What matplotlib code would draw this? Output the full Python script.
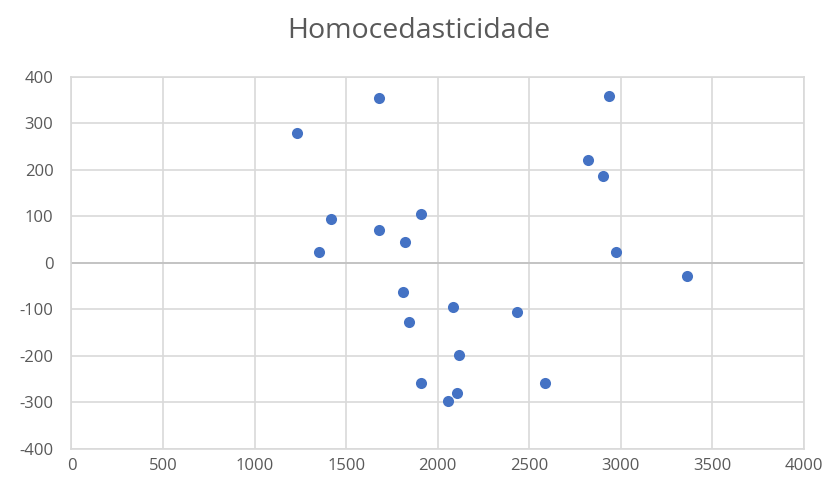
import matplotlib
matplotlib.use("Agg")
import matplotlib.pyplot as plt

# data
x_vals = [1230, 1678, 1415, 1351, 1678, 1906, 1820, 1809, 1844, 2082, 2115,
          1906, 2104, 2058, 2431, 2584, 2933, 2823, 2900, 2976, 3360]
y_vals = [279, 354, 95, 22, 70, 105, 44, -64, -128, -95, -198,
          -258, -280, -297, -107, -258, 359, 221, 186, 22, -29]
x_ticks = [0, 500, 1000, 1500, 2000, 2500, 3000, 3500, 4000]
y_ticks = [-400, -300, -200, -100, 0, 100, 200, 300, 400]

plt.rcParams['font.family'] = ['Open Sans', 'DejaVu Sans']
plt.rcParams['axes.unicode_minus'] = False

fig = plt.figure(figsize=(8.37, 4.95), dpi=100)
ax = fig.add_axes([0.0854, 0.0935, 0.8752, 0.7515])

ax.scatter(x_vals, y_vals, s=64, color="#4472C4", zorder=3, linewidths=0)

ax.set_xlim(0, 4000)
ax.set_ylim(-400, 400)
ax.set_xticks(x_ticks)
ax.set_yticks(y_ticks)
ax.grid(True, color="#d9d9d9", linewidth=1.2)
ax.axhline(0, color="#bfbfbf", linewidth=1.2, zorder=2)
for s in ax.spines.values():
    s.set_color("#d9d9d9")
    s.set_linewidth(1.2)
ax.tick_params(length=0, labelsize=12, colors="#595959")
ax.tick_params(axis="x", pad=7)
ax.tick_params(axis="y", pad=13)

fig.suptitle("Homocedasticidade", y=0.965, fontsize=20.5, color="#595959")

fig.savefig("out.png", dpi=100)
